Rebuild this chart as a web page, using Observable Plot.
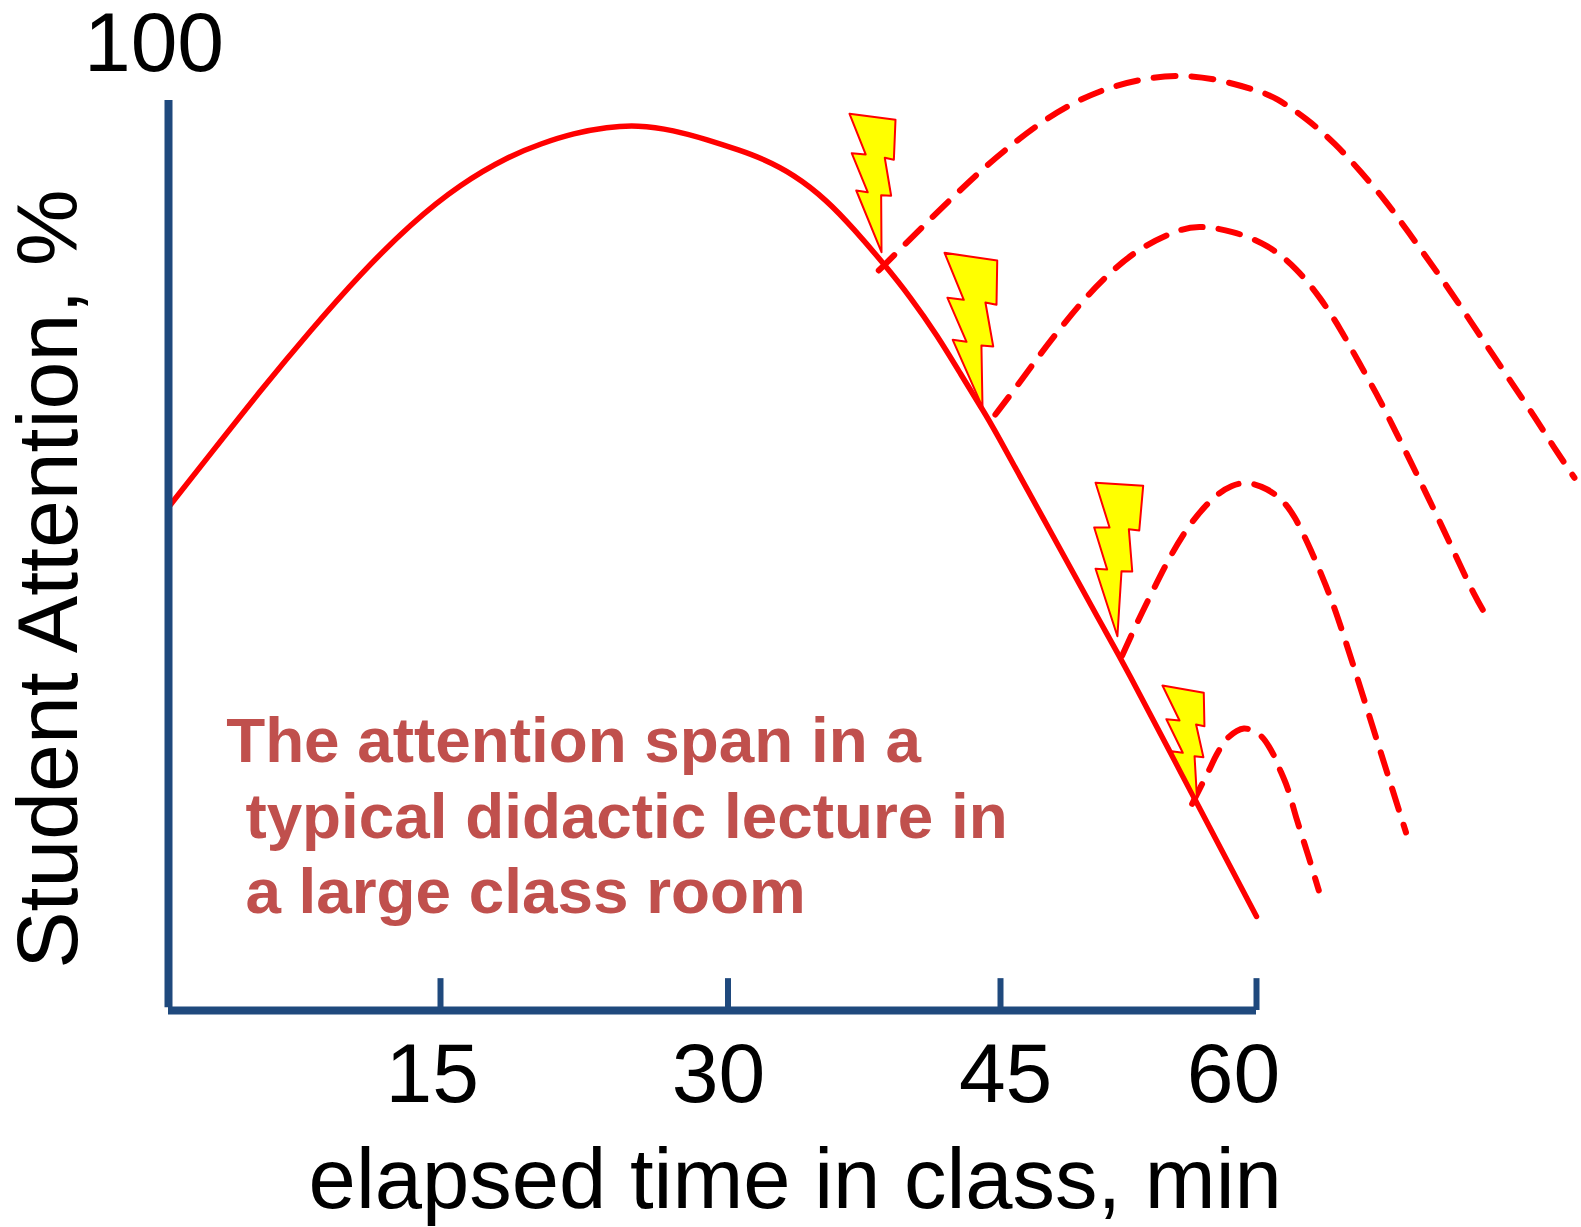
<!DOCTYPE html>
<html>
<head>
<meta charset="utf-8">
<style>html,body{margin:0;padding:0;background:#fff}svg{display:block}</style>
<script src="https://cdn.jsdelivr.net/npm/d3@7"></script>
<script src="https://cdn.jsdelivr.net/npm/@observablehq/plot@0.6"></script>
</head>
<body>
<script>
const tickMinutes = [15, 30, 45, 60];
const tickLabels = ["15", "30", "45", "60"];
const tickLabelAt = [14.55, 29.5, 45.3, 58.65];

const attention = [[0,55.31],[2.32,61.18],[5.07,68.13],[7.83,74.73],[10.59,80.96],[13.35,86.45],[16.04,90.85],[18.65,93.96],[20.22,95.24],[21.95,96.41],[23.70,97.07],[25.26,97.3],[27.17,96.75],[28.91,95.7],[30.69,94.5],[31.79,93.7],[33.62,91.9],[35.46,89.01],[36.92,85.90],[38.58,82.05],[40.05,78.38],[41.52,74.18],[42.80,69.97],[44.09,65.75],[44.45,64.62],[47.93,52.64],[51.05,41.95],[52.03,38.82],[56.53,22.71],[60,10.33]];

const recovery1 = [[38.30,81.32],[39.77,84.25],[41.24,87.18],[42.70,90.0],[44.23,92.86],[45.88,95.49],[47.58,97.88],[49.49,100],[51.49,101.54],[53.59,102.49],[55.74,102.85],[57.89,102.27],[60.04,101.10],[61.11,100.36],[62.97,97.99],[64.63,95.24],[66.09,92.23],[67.56,89.01],[68.83,85.71],[70.10,82.42],[71.37,79.01],[72.58,75.64],[73.81,72.16],[75.02,68.79],[76.25,65.38],[77.42,61.90],[78.63,58.54]];
const recovery2 = [[44.72,65.49],[46.07,68.87],[47.34,72.16],[48.71,75.46],[50.08,78.57],[51.64,81.51],[53.30,83.96],[55.35,85.74],[56.53,86.29],[58.58,85.71],[60.72,84.14],[62.38,81.51],[63.75,78.32],[64.92,74.91],[65.99,71.24],[67.07,67.69],[68.04,64.03],[69.02,60.36],[70.0,56.59],[70.94,52.93],[71.85,49.26],[72.77,45.60],[73.42,43.52]];
const recovery3 = [[52.13,39.01],[53.01,42.67],[53.98,46.34],[54.96,50.0],[56.07,53.48],[57.50,56.52],[58.58,57.8],[59.55,58.1],[60.63,57.36],[61.51,56.15],[62.23,54.40],[63.16,50.74],[64.04,46.89],[64.82,43.04],[66.80,31.21],[68.76,19.56]];
const recovery4 = [[56.23,22.71],[56.72,24.54],[57.21,26.37],[57.70,28.24],[58.28,29.89],[59.26,30.99],[60.23,30.22],[60.92,28.38],[61.31,26.74],[61.80,24.54],[62.38,20.88],[63.06,16.85],[63.65,13.19]];

const bolt1 = [[36.69,98.54],[39.22,97.88],[39.13,93.48],[38.63,93.70],[38.98,89.53],[38.43,89.59],[38.45,83.33],[37.06,90.11],[37.69,89.92],[36.81,94.21],[37.58,94.07]];
const bolt2 = [[41.92,83.26],[44.82,82.42],[44.78,77.55],[44.17,77.80],[44.60,72.97],[43.95,73.08],[44.01,66.30],[42.37,73.70],[43.13,73.48],[42.08,78.32],[42.98,78.10]];
const bolt3 = [[50.57,57.99],[53.36,57.66],[53.13,52.75],[52.52,52.89],[52.72,48.24],[52.09,48.27],[51.85,41.13],[50.57,48.54],[51.25,48.46],[50.49,53.08],[51.39,53.08]];
const bolt4 = [[54.49,35.71],[56.91,34.91],[56.95,31.24],[56.46,31.43],[56.89,27.84],[56.37,27.95],[56.52,23.08],[55.02,28.49],[55.68,28.32],[54.72,32.01],[55.49,31.87]];

const noteLines = ["The attention span in a", "typical didactic lecture in", "a large class room"];
const noteX = [3.18, 4.24, 4.24];
const noteY = [29.6, 21.25, 13.0];

const font = "Liberation Sans, Arial, sans-serif";
const blue = "#1F497D";
const red = "#FF0000";
const smooth = [recovery1, recovery2, recovery3];
const bolts = [bolt1, bolt2, bolt3, bolt4];
const dash = {stroke: red, strokeWidth: 6, strokeDasharray: "22,16"};

const chart = Plot.plot({
  width: 1581,
  height: 1227,
  margin: 0,
  style: {fontFamily: font, background: "#fff", overflow: "visible"},
  x: {type: "linear", domain: [0, 15, 30, 45, 60], range: [168, 440, 727.5, 1000, 1256], axis: null},
  y: {type: "linear", domain: [0, 100], range: [1010, 100], axis: null},
  marks: [
    Plot.line(attention, {curve: "basis", stroke: red, strokeWidth: 5.5}),
    ...smooth.map(r => Plot.line(r, {curve: "basis", ...dash})),
    Plot.line(recovery4, {curve: "catmull-rom", ...dash}),
    ...bolts.map(b => Plot.line(b, {curve: "linear-closed", fill: "#FFFF00", stroke: red, strokeWidth: 2})),
    Plot.ruleX([0], {y1: 0.3, y2: 100, stroke: blue, strokeWidth: 8}),
    Plot.ruleY([0], {x1: 0, x2: 60, stroke: blue, strokeWidth: 8}),
    Plot.ruleX(tickMinutes, {y1: 0, y2: 3.5, stroke: blue, strokeWidth: 6}),
    Plot.text(tickLabels, {x: (d, i) => tickLabelAt[i], y: () => -7.1, text: d => d, fontSize: 84, fill: "#000"}),
    Plot.text(["elapsed time in class, min"], {x: () => 33.7, y: () => -18.7, text: d => d, fontSize: 85, fill: "#000"}),
    Plot.text(["100"], {x: () => -0.8, y: () => 106.2, text: d => d, fontSize: 84, fill: "#000"}),
    Plot.text(["Student Attention, %"], {x: () => -6.55, y: () => 47.4, text: d => d, rotate: -90, fontSize: 86, fill: "#000"}),
    Plot.text(noteLines, {x: (d, i) => noteX[i], y: (d, i) => noteY[i], text: d => d, textAnchor: "start", fontSize: 63.8, fontWeight: "bold", fill: "#C0504D"})
  ]
});
document.body.appendChild(chart);
</script>
</body>
</html>
